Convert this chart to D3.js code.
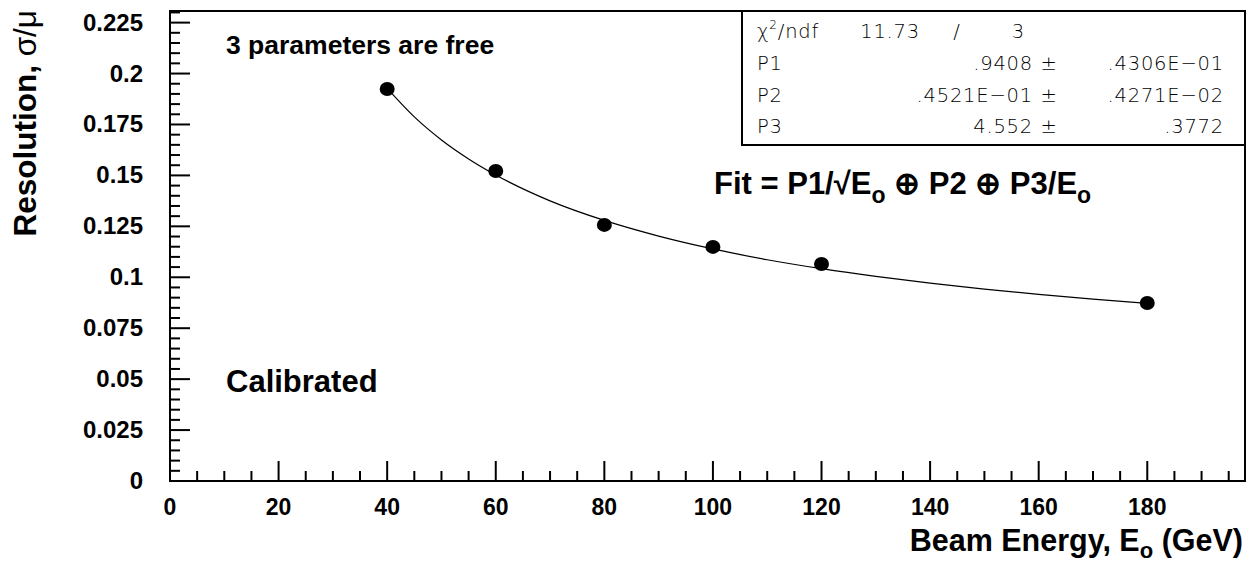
<!DOCTYPE html>
<html>
<head>
<meta charset="utf-8">
<script src="https://cdn.jsdelivr.net/npm/d3@7"></script>
<style>
	body { margin: 0; background: #fff; }
	svg { display: block; font-family: 'Liberation Sans', Arial, sans-serif; }
	.lbl { font-weight: bold; fill: #000; }
	.stat { font-family: 'DejaVu Sans', sans-serif; font-size: 19.5px; fill: #000; font-weight: 200; letter-spacing: 0.8px; }
</style>
</head>
<body>
<script>

// Meetpunten: beam energy (GeV) en resolutie
const energies = [ 40, 60, 80, 100, 120, 180 ],
	resolution = [ 0.1924, 0.1522, 0.1257, 0.1149, 0.1065, 0.0874 ],

	// Fitlijn
	fitEnergies = [ 40, 45, 50, 55, 60, 70, 80, 90, 100, 110, 120, 130, 140, 150, 160, 170, 180 ],
	fitValues = [ 0.1927, 0.1787, 0.1674, 0.1581, 0.1502, 0.1375, 0.1279, 0.1202, 0.1139, 0.1086, 0.1042, 0.1004, 0.0971, 0.0942, 0.0916, 0.0893, 0.0872 ],

	xTicks = [ 0, 20, 40, 60, 80, 100, 120, 140, 160, 180 ],
	yTicks = [ 0, 0.025, 0.05, 0.075, 0.1, 0.125, 0.15, 0.175, 0.2, 0.225 ],
	yTickLabels = [ '0', '0.025', '0.05', '0.075', '0.1', '0.125', '0.15', '0.175', '0.2', '0.225' ],

	statNames = [ 'P1', 'P2', 'P3' ],
	statValues = [ '.9408', '.4521E\u221201', '4.552' ],
	statErrors = [ '.4306E\u221201', '.4271E\u221202', '.3772' ],
	chi2 = '11.73',
	ndf = '3'

const W = 1251, H = 564,
	frameL = 170, frameR = 1245, frameT = 11, frameB = 481

const svg = d3.select( 'body' ).append( 'svg' )
	.attr( 'width', W )
	.attr( 'height', H )

const x = d3.scaleLinear().domain( [ 0, 198 ] ).range( [ frameL, frameR ] ),
	y = d3.scaleLinear().domain( [ 0, 0.2307 ] ).range( [ frameB, frameT ] )

// Ticks binnen het frame (groot elke 20 / 0.025, klein elke 5 / 0.005)
const xMinor = d3.range( 0, 198, 5 ),
	yMinor = d3.range( 0, 0.2306, 0.005 )

svg.append( 'g' ).selectAll( 'line' )
	.data( xMinor )
	.join( 'line' )
	.attr( 'x1', d => x( d ) ).attr( 'x2', d => x( d ) )
	.attr( 'y1', frameB ).attr( 'y2', d => d % 20 === 0 ? frameB - 20 : frameB - 10 )
	.attr( 'stroke', '#000' ).attr( 'stroke-width', 2 )

svg.append( 'g' ).selectAll( 'line' )
	.data( yMinor )
	.join( 'line' )
	.attr( 'x1', frameL ).attr( 'x2', ( d, i ) => i % 5 === 0 ? frameL + 20 : frameL + 10 )
	.attr( 'y1', d => y( d ) ).attr( 'y2', d => y( d ) )
	.attr( 'stroke', '#000' ).attr( 'stroke-width', 2 )

// Tick labels
svg.append( 'g' ).selectAll( 'text' )
	.data( xTicks )
	.join( 'text' )
	.attr( 'class', 'lbl' )
	.attr( 'x', d => x( d ) )
	.attr( 'y', 515 )
	.attr( 'text-anchor', 'middle' )
	.style( 'font-size', '23px' )
	.text( d => d )

svg.append( 'g' ).selectAll( 'text' )
	.data( yTicks )
	.join( 'text' )
	.attr( 'class', 'lbl' )
	.attr( 'x', 143 )
	.attr( 'y', d => y( d ) + 8 )
	.attr( 'text-anchor', 'end' )
	.style( 'font-size', '24px' )
	.text( ( d, i ) => yTickLabels[ i ] )

// Frame
svg.append( 'rect' )
	.attr( 'x', frameL ).attr( 'y', frameT )
	.attr( 'width', frameR - frameL ).attr( 'height', frameB - frameT )
	.attr( 'fill', 'none' ).attr( 'stroke', '#000' ).attr( 'stroke-width', 2 )

// Fit lijn
svg.append( 'path' )
	.datum( fitEnergies.map( ( e, i ) => [ e, fitValues[ i ] ] ) )
	.attr( 'fill', 'none' )
	.attr( 'stroke', '#000' )
	.attr( 'stroke-width', 1.2 )
	.attr( 'd', d3.line().x( d => x( d[ 0 ] ) ).y( d => y( d[ 1 ] ) ).curve( d3.curveMonotoneX ) )

// Punten
svg.append( 'g' ).selectAll( 'ellipse' )
	.data( energies )
	.join( 'ellipse' )
	.attr( 'cx', d => x( d ) )
	.attr( 'cy', ( d, i ) => y( resolution[ i ] ) )
	.attr( 'rx', 7.5 )
	.attr( 'ry', 7 )
	.attr( 'fill', '#000' )

// Teksten in de plot
svg.append( 'text' ).attr( 'class', 'lbl' )
	.attr( 'x', 226 ).attr( 'y', 54 )
	.style( 'font-size', '26.5px' )
	.text( '3 parameters are free' )

svg.append( 'text' ).attr( 'class', 'lbl' )
	.attr( 'x', 226 ).attr( 'y', 392 )
	.style( 'font-size', '31px' )
	.text( 'Calibrated' )

const fit = svg.append( 'text' ).attr( 'class', 'lbl' )
	.attr( 'x', 714 ).attr( 'y', 194 )
	.style( 'font-size', '31px' )
fit.append( 'tspan' ).text( 'Fit = P1/\u221AE' )
fit.append( 'tspan' ).attr( 'dy', 9 ).style( 'font-size', '23px' ).text( 'o' )
fit.append( 'tspan' ).attr( 'dy', -9 ).text( ' \u2295 P2 \u2295 P3/E' )
fit.append( 'tspan' ).attr( 'dy', 9 ).style( 'font-size', '23px' ).text( 'o' )

// As titels
const xt = svg.append( 'text' ).attr( 'class', 'lbl' )
	.attr( 'x', 1243 ).attr( 'y', 551 )
	.attr( 'text-anchor', 'end' )
	.style( 'font-size', '30.5px' )
xt.append( 'tspan' ).text( 'Beam Energy, E' )
xt.append( 'tspan' ).attr( 'dy', 7 ).style( 'font-size', '22px' ).text( 'o' )
xt.append( 'tspan' ).attr( 'dy', -7 ).text( ' (GeV)' )

const yt = svg.append( 'text' ).attr( 'class', 'lbl' )
	.attr( 'transform', 'translate( 36, 10 ) rotate( -90 )' )
	.attr( 'text-anchor', 'end' )
	.style( 'font-size', '31.5px' )
yt.append( 'tspan' ).text( 'Resolution, ' )
yt.append( 'tspan' ).style( 'font-weight', 'normal' ).text( '\u03C3/\u03BC' )

// Statistiek box
const bx = 742, by = frameT, bw = frameR - bx, bh = 145 - frameT
svg.append( 'rect' )
	.attr( 'x', bx ).attr( 'y', by )
	.attr( 'width', bw ).attr( 'height', bh )
	.attr( 'fill', '#fff' ).attr( 'stroke', '#000' ).attr( 'stroke-width', 2 )

const rowY = [ 38, 70, 102, 133 ]

const chi = svg.append( 'text' ).attr( 'class', 'stat' ).attr( 'x', 757 ).attr( 'y', rowY[ 0 ] )
chi.append( 'tspan' ).text( '\u03C7' )
chi.append( 'tspan' ).attr( 'dy', -9 ).style( 'font-size', '12px' ).text( '2' )
chi.append( 'tspan' ).attr( 'dy', 9 ).text( '/ndf' )
svg.append( 'text' ).attr( 'class', 'stat' ).attr( 'x', 920 ).attr( 'y', rowY[ 0 ] ).attr( 'text-anchor', 'end' ).text( chi2 )
svg.append( 'text' ).attr( 'class', 'stat' ).attr( 'x', 957 ).attr( 'y', rowY[ 0 ] ).attr( 'text-anchor', 'middle' ).text( '/' )
svg.append( 'text' ).attr( 'class', 'stat' ).attr( 'x', 1025 ).attr( 'y', rowY[ 0 ] ).attr( 'text-anchor', 'end' ).text( ndf )

statNames.forEach( ( n, i ) => {
	const yy = rowY[ i + 1 ]
	svg.append( 'text' ).attr( 'class', 'stat' ).attr( 'x', 757 ).attr( 'y', yy ).text( n )
	svg.append( 'text' ).attr( 'class', 'stat' ).attr( 'x', 1033 ).attr( 'y', yy ).attr( 'text-anchor', 'end' ).text( statValues[ i ] )
	svg.append( 'text' ).attr( 'class', 'stat' ).attr( 'x', 1049 ).attr( 'y', yy ).attr( 'text-anchor', 'middle' ).text( '\u00B1' )
	svg.append( 'text' ).attr( 'class', 'stat' ).attr( 'x', 1224 ).attr( 'y', yy ).attr( 'text-anchor', 'end' ).text( statErrors[ i ] )
})

</script>
</body>
</html>
